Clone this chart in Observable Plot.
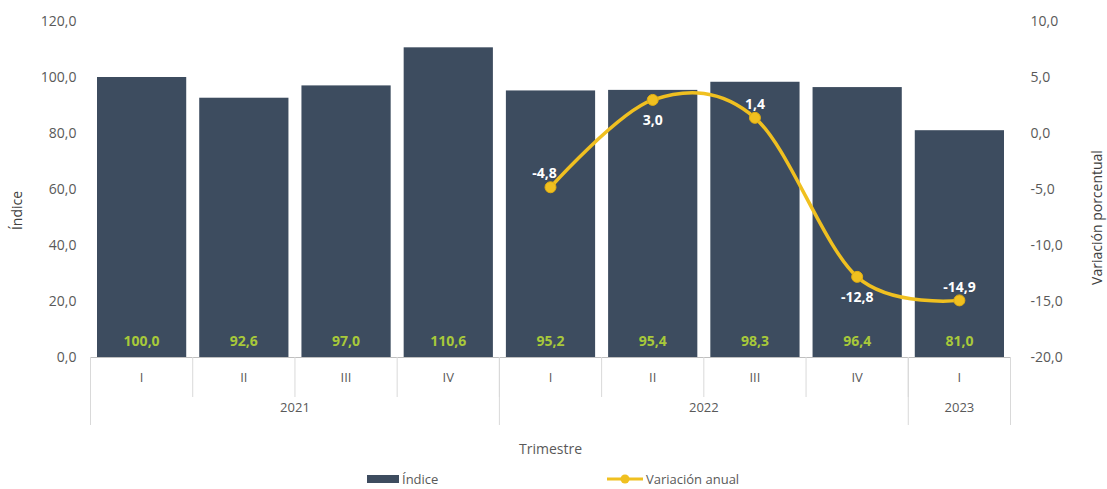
<!DOCTYPE html>
<html><head><meta charset="utf-8">
<script src="https://cdn.jsdelivr.net/npm/d3@7"></script>
<script src="https://cdn.jsdelivr.net/npm/@observablehq/plot@0.6"></script>
<style>
html,body{margin:0;background:#fff;font-family:"Open Sans",sans-serif;overflow:hidden;}
#chart svg{display:block;}
#legend{position:relative;height:23px;width:1107px;font-size:13px;color:#595959;}
#legend .item{position:absolute;top:5px;display:flex;align-items:center;gap:3px;line-height:16px;}
</style></head><body><div id="chart"></div><div id="legend"></div>
<script>
const years = ["2021","2021","2021","2021","2022","2022","2022","2022","2023"];
const quarters = ["I","II","III","IV","I","II","III","IV","I"];
const indice = [100.0, 92.6, 97.0, 110.6, 95.2, 95.4, 98.3, 96.4, 81.0];
const variacion = [null, null, null, null, -4.8, 3.0, 1.4, -12.8, -14.9];
const leftTicks = [0, 20, 40, 60, 80, 100, 120];
const rightTicks = [-20, -15, -10, -5, 0, 5, 10];
const seriesNames = ["Índice", "Variación anual"];

const data = indice.map((v, i) => ({i, year: years[i], q: quarters[i], indice: v, variacion: variacion[i]}));
const lineData = data.filter(d => d.variacion != null);

// secondary axis (-20..10) mapped onto primary (0..120)
const toLeft = v => (v + 20) * 4;
const fmt = v => v.toFixed(1).replace(".", ",");

// year groups
const groups = [];
years.forEach((y, i) => {
  const g = groups[groups.length - 1];
  if (g && g.year === y) g.end = i + 1; else groups.push({year: y, start: i, end: i + 1});
});
const yearBounds = [0, ...groups.map(g => g.end)];
const yearCenters = groups.map(g => (g.start + g.end) / 2);
const yearByCenter = new Map(groups.map(g => [(g.start + g.end) / 2, g.year]));

const BAR = "#3d4c5f", LINE = "#f0c020", GRID = "#d9d9d9", TXT = "#595959";
const belowIdx = new Set([5, 7]);
const W = 1107, H = 466, ZERO = 357;

const chart = Plot.plot({
  width: W, height: H,
  marginLeft: 90, marginRight: 97, marginTop: 21, marginBottom: H - ZERO,
  x: {type: "linear", domain: [0, data.length], axis: null, label: null},
  y: {domain: [0, 120], axis: null, label: null},
  style: {fontFamily: "'Open Sans', sans-serif", fontSize: "14px", color: TXT, background: "white"},
  marks: [
    Plot.rectY(data, {x1: "i", x2: d => d.i + 1, y: "indice", fill: BAR, insetLeft: 7, insetRight: 6}),
    Plot.ruleY([0], {stroke: "#bfbfbf"}),
    Plot.axisY({ticks: leftTicks, tickFormat: fmt, tickSize: 0, tickPadding: 14, label: null}),
    Plot.axisY({anchor: "right", ticks: rightTicks.map(toLeft), tickFormat: t => fmt(t / 4 - 20), tickSize: 0, tickPadding: 20, label: null}),
    Plot.axisX({ticks: d3.range(0, data.length + 1), tickFormat: () => "", tickSize: 40, stroke: GRID, label: null}),
    Plot.axisX({ticks: yearBounds, tickFormat: () => "", tickSize: 68, stroke: GRID, label: null}),
    Plot.axisX({ticks: data.map(d => d.i + 0.5), tickFormat: t => quarters[Math.floor(t)], tickSize: 0, tickPadding: 15, fontSize: 13, label: null}),
    Plot.axisX({ticks: yearCenters, tickFormat: t => yearByCenter.get(t), tickSize: 0, tickPadding: 45, fontSize: 13, label: null}),
    Plot.text(data, {x: d => d.i + 0.5, y: 0, text: d => fmt(d.indice), dy: -16, fill: "#a8c93a", fontWeight: "bold", fontSize: 14}),
    Plot.line(lineData, {x: d => d.i + 0.5, y: d => toLeft(d.variacion), stroke: LINE, strokeWidth: 3.5, curve: "cardinal"}),
    Plot.dot(lineData, {x: d => d.i + 0.5, y: d => toLeft(d.variacion), r: 5.5, fill: LINE, stroke: "#e2ae10", strokeWidth: 1}),
    Plot.text(lineData, {x: d => d.i + 0.5, y: d => toLeft(d.variacion), text: d => fmt(d.variacion), fill: "white", fontWeight: "bold", fontSize: 14}),
    Plot.text(["Índice"], {frameAnchor: "left", textAnchor: "middle", text: d => d, dx: -73, dy: 21, rotate: -90, fontSize: 14, fill: "#404040"}),
    Plot.text(["Variación porcentual"], {frameAnchor: "right", textAnchor: "middle", text: d => d, dx: 87, dy: 28, rotate: -90, fontSize: 14, fill: "#404040"}),
    Plot.text(["Trimestre"], {frameAnchor: "bottom", text: d => d, dy: 96, fontSize: 14, fill: TXT})
  ]
});
document.getElementById("chart").appendChild(chart);

// line data labels: above or below each point
{
  const lbl = chart.querySelectorAll('g[aria-label="text"]')[1];
  lbl.querySelectorAll("text").forEach((t, k) => {
    const d = lineData[k];
    t.setAttribute("dy", belowIdx.has(d.i) ? "1.45em" : "-0.95em");
    if (d.i === 4) t.setAttribute("dx", "-6");
  });
}

// legend
const legend = document.getElementById("legend");
legend.innerHTML = `
  <div class="item" style="left:367px"><svg width="32" height="10"><rect x="0" y="1" width="32" height="8" fill="${BAR}"/></svg><span>${seriesNames[0]}</span></div>
  <div class="item" style="left:607px"><svg width="36" height="12"><line x1="0" x2="36" y1="6" y2="6" stroke="${LINE}" stroke-width="3"/><circle cx="18" cy="6" r="4.5" fill="${LINE}"/></svg><span>${seriesNames[1]}</span></div>`;
</script></body></html>
